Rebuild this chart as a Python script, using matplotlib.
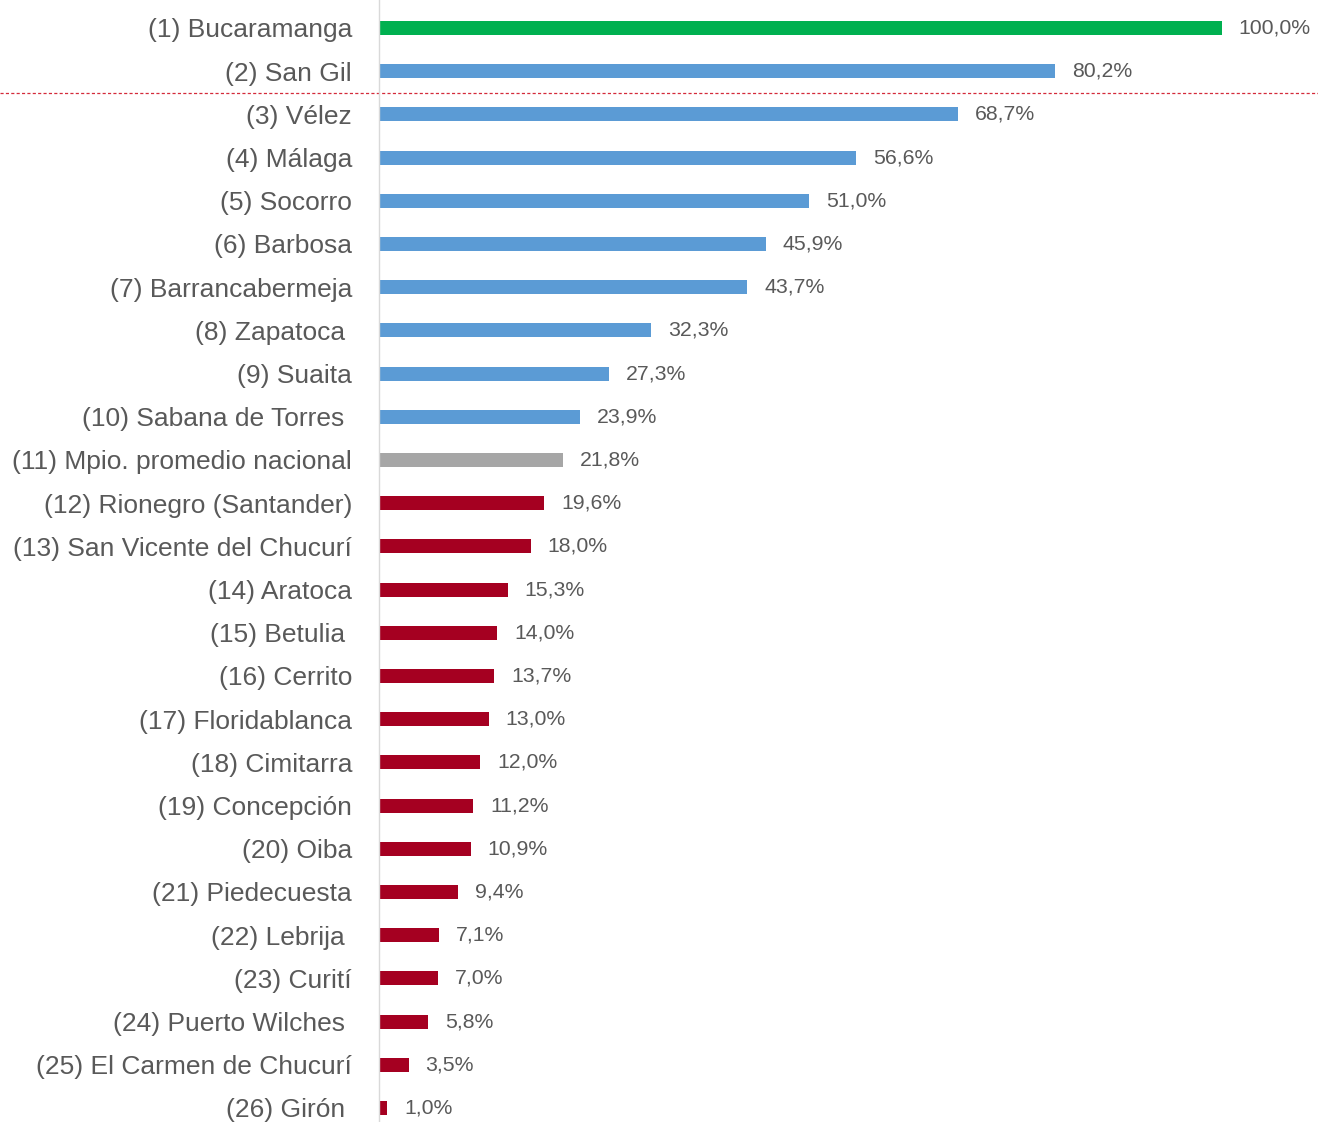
import numpy as np
import matplotlib.pyplot as plt

labels = ["(1) Bucaramanga", "(2) San Gil", "(3) Vélez", "(4) Málaga", "(5) Socorro",
          "(6) Barbosa", "(7) Barrancabermeja", "(8) Zapatoca ", "(9) Suaita",
          "(10) Sabana de Torres ", "(11) Mpio. promedio nacional", "(12) Rionegro (Santander)",
          "(13) San Vicente del Chucurí", "(14) Aratoca", "(15) Betulia ", "(16) Cerrito",
          "(17) Floridablanca", "(18) Cimitarra", "(19) Concepción", "(20) Oiba",
          "(21) Piedecuesta", "(22) Lebrija ", "(23) Curití", "(24) Puerto Wilches ",
          "(25) El Carmen de Chucurí", "(26) Girón "]
values = [100.0, 80.2, 68.7, 56.6, 51.0, 45.9, 43.7, 32.3, 27.3, 23.9, 21.8, 19.6, 18.0,
          15.3, 14.0, 13.7, 13.0, 12.0, 11.2, 10.9, 9.4, 7.1, 7.0, 5.8, 3.5, 1.0]
groups = ["top"] + ["above"] * 9 + ["avg"] + ["below"] * 15

group_colors = {"top": "#00B050", "above": "#5B9BD5", "avg": "#A6A6A6", "below": "#A50021"}
colors = [group_colors[g] for g in groups]

fig = plt.figure(figsize=(13.18, 11.22), dpi=100)
ax = fig.add_axes([379 / 1318, 0, 1 - 379 / 1318, 1])

y = np.arange(len(values))
ax.barh(y, values, height=0.32, color=colors)

for yi, v in zip(y, values):
    ax.text(v + 2.0, yi, f"{v:.1f}%".replace(".", ","), va="center", ha="left",
            fontsize=15.3, color="#595959", family="Liberation Sans")

ax.set_xlim(0, (1318 - 379) / 8.43)
ax.set_ylim(25 + 14 / 43.2, -28 / 43.2)
ax.set_yticks(y)
ax.set_yticklabels(labels, fontsize=19, color="#595959", family="Liberation Sans")
ax.tick_params(axis="y", length=0, pad=19.4)
ax.set_xticks([])

for s in ["top", "right", "bottom"]:
    ax.spines[s].set_visible(False)
ax.spines["left"].set_color("#D9D9D9")
ax.spines["left"].set_linewidth(1)

# separator line between the top two and the rest
ax.plot([-379 / 939, 1], [1.5, 1.5], transform=ax.get_yaxis_transform(),
        color="#D42A3A", linestyle=(0, (2.5, 1.8)), linewidth=0.9, clip_on=False)

fig.savefig("out.png", dpi=100)
